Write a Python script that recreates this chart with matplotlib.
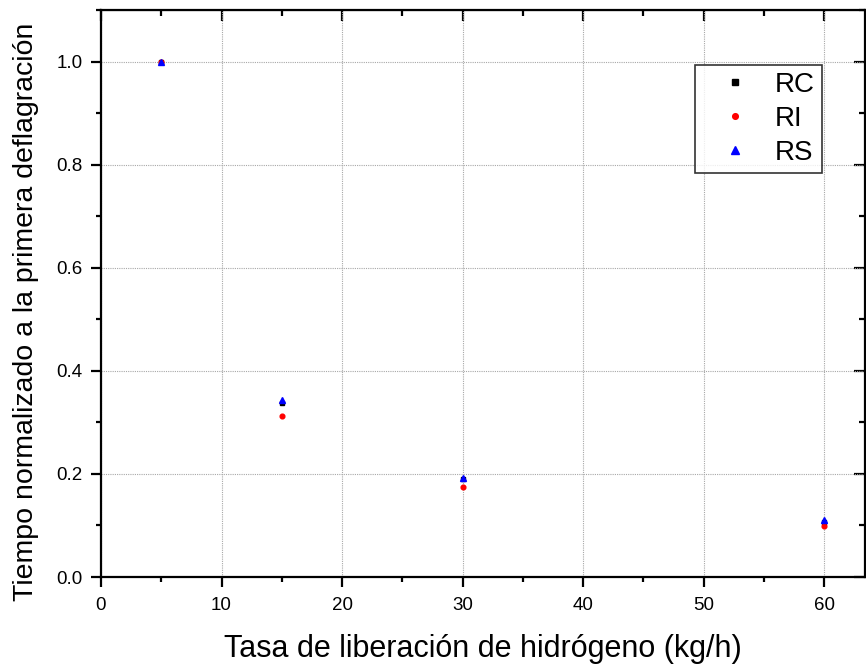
import matplotlib
matplotlib.use("Agg")
import matplotlib.pyplot as plt
from matplotlib.ticker import MultipleLocator, FormatStrFormatter

plt.rcParams['font.family'] = ['Liberation Sans', 'DejaVu Sans']

x = [5, 15, 30, 60]
rc = [1.0, 0.337, 0.190, 0.106]
ri = [1.0, 0.313, 0.175, 0.098]
rs = [1.0, 0.343, 0.193, 0.110]

fig = plt.figure(figsize=(8.66, 6.66), dpi=100)
ax = fig.add_axes([101/866, 89/666, 764/866, 567/666])

ax.plot(x, rc, linestyle='none', marker='s', color='black', markersize=3.4, label='RC', zorder=3)
ax.plot(x, ri, linestyle='none', marker='o', color='red', markersize=3.4, label='RI', zorder=3)
ax.plot(x, rs, linestyle='none', marker='^', color='blue', markersize=4.4, label='RS', zorder=3)

ax.set_xlim(0, 63.4)
ax.set_ylim(0, 1.1)
ax.xaxis.set_major_locator(MultipleLocator(10))
ax.xaxis.set_minor_locator(MultipleLocator(5))
ax.yaxis.set_major_locator(MultipleLocator(0.2))
ax.yaxis.set_minor_locator(MultipleLocator(0.1))
ax.yaxis.set_major_formatter(FormatStrFormatter('%.1f'))

ax.grid(True, which='major', linestyle=(0, (1, 1)), color='#a8a8a8', linewidth=0.8)
ax.tick_params(which='major', direction='out', length=7.5, width=1.6, labelsize=13.5, pad=6,
               top=False, right=False)
ax.tick_params(axis='x', which='major', pad=7)
ax.tick_params(which='minor', direction='out', length=3.5, width=1.6)
for s in ax.spines.values():
    s.set_linewidth(1.6)

ax2 = ax.secondary_xaxis('top')
ax2.xaxis.set_major_locator(MultipleLocator(10))
ax2.xaxis.set_minor_locator(MultipleLocator(5))
ax2.tick_params(which='major', direction='in', length=8, width=1.6)
ax2.tick_params(which='minor', direction='in', length=4, width=1.6)
ax2.set_xticklabels([])
ay2 = ax.secondary_yaxis('right')
ay2.yaxis.set_major_locator(MultipleLocator(0.2))
ay2.yaxis.set_minor_locator(MultipleLocator(0.1))
ay2.tick_params(which='major', direction='in', length=8, width=1.6)
ay2.tick_params(which='minor', direction='in', length=4, width=1.6)
ay2.set_yticklabels([])

ax.set_xlabel('Tasa de liberación de hidrógeno (kg/h)', fontsize=22)
ax.set_ylabel('Tiempo normalizado a la primera deflagración', fontsize=20.5)
ax.xaxis.set_label_coords(0.5, -0.1)
ax.yaxis.set_label_coords(-0.081, 0.467)

leg = ax.legend(loc='upper right', bbox_to_anchor=(0.9437, 0.903), fontsize=20,
                frameon=True, fancybox=False, edgecolor='black', markerscale=1.2,
                handlelength=2.37, handletextpad=0.25, borderpad=0.25, labelspacing=0.29,
                borderaxespad=0)
leg.get_frame().set_linewidth(1.2)

fig.savefig('out.png', dpi=100)
